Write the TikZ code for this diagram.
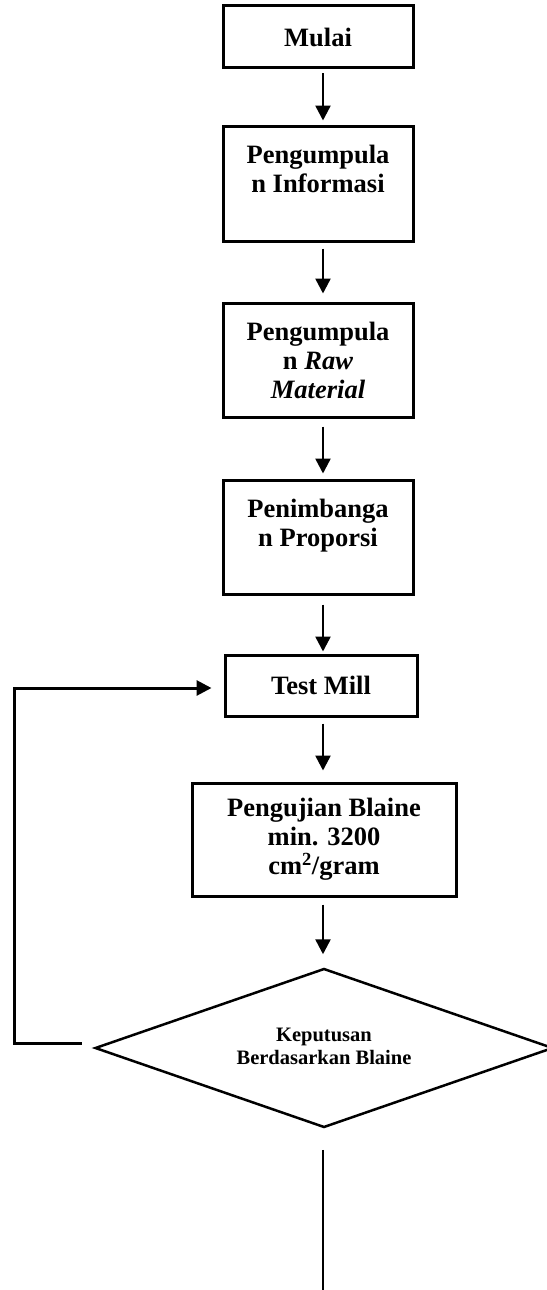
\documentclass[tikz,border=0pt]{standalone}
\usepackage{fontspec}
\setmainfont{Liberation Serif}
\usetikzlibrary{shapes.geometric,arrows.meta}
\begin{document}
\begin{tikzpicture}[x=1pt,y=-1pt,
  box/.style={draw,rectangle,line width=3pt,inner sep=0pt,align=center,
    font=\bfseries\fontsize{26.5}{29}\selectfont},
  decision/.style={draw,diamond,line width=2.5pt,inner sep=0pt,aspect=2.88,align=center,
    font=\bfseries\fontsize{20.5}{25}\selectfont},
  flow/.style={line width=2.5pt,-{Triangle[length=15pt,width=15pt]}},
  loopline/.style={line width=3pt,line join=miter,-{Triangle[length=15pt,width=15pt]}}]
  \useasboundingbox[fill=white] (0,0) rectangle (546,1290);

  % process steps
  \node[box,minimum width=190pt,minimum height=62pt]  (start) at (318,37)    {Mulai};
  \node[box,minimum width=190pt,minimum height=115pt] (info)  at (318,183.5) {Pengumpula\\ n Informasi\\ \mbox{}};
  \node[box,minimum width=190pt,minimum height=114pt] (raw)   at (318,360)   {Pengumpula\\ n \textit{Raw}\\ \textit{Material}};
  \node[box,minimum width=190pt,minimum height=114pt] (prop)  at (318,537)   {Penimbanga\\ n Proporsi\\ \mbox{}};
  \node[box,minimum width=192pt,minimum height=61pt]  (mill)  at (321,685.5) {Test Mill};
  \node[box,minimum width=264pt,minimum height=113pt] (blaine) at (324,839.5) {Pengujian Blaine\\ min. 3200\\ cm\textsuperscript{2}/gram};

  % decision
  \node[decision,minimum width=458pt,minimum height=159pt] (dec) at (324,1048)
    {\raisebox{7pt}{\begin{tabular}{@{}c@{}}Keputusan\\[-2pt] Berdasarkan Blaine\end{tabular}}};

  \coordinate (col) at (323,0);
  \coordinate (end) at (323,1290);

  % main flow
  \draw[flow,shorten <=4pt,shorten >=4pt]  (start.south -| col)  -- (info.north -| col);
  \draw[flow,shorten <=6pt,shorten >=8pt]  (info.south -| col)   -- (raw.north -| col);
  \draw[flow,shorten <=8pt,shorten >=5pt]  (raw.south -| col)    -- (prop.north -| col);
  \draw[flow,shorten <=9pt,shorten >=2pt]  (prop.south -| col)   -- (mill.north -| col);
  \draw[flow,shorten <=6pt,shorten >=11pt] (mill.south -| col)   -- (blaine.north -| col);
  \draw[flow,shorten <=7pt,shorten >=13pt] (blaine.south -| col) -- (dec.north -| col);

  % repeat loop back to the test mill
  \draw[loopline] ([shift={(-12pt,5pt)}]dec.west) -| (14,688)
    -- ([shift={(-12pt,-2.5pt)}]mill.west);

  % continuation below the decision
  \draw[line width=1.2pt] ([yshift=-21pt]dec.south -| col) -- (end);
\end{tikzpicture}
\end{document}
